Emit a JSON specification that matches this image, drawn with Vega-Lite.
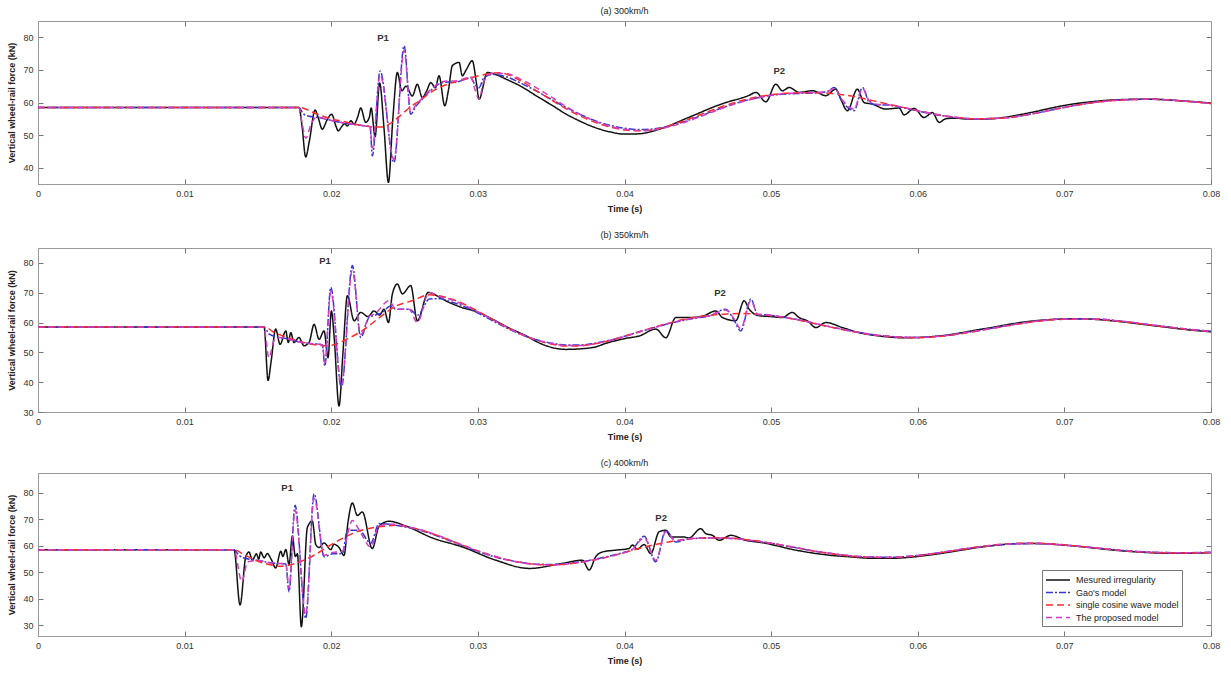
{
"$schema": "https://vega.github.io/schema/vega-lite/v6.json",
"padding": {"left": 7, "top": 6, "right": 5, "bottom": 3},
"spacing": 16,
"config": {
 "font": "Liberation Sans",
 "view": {"stroke": "#999", "strokeWidth": 1},
 "axis": {"domainColor": "#999", "tickColor": "#777", "labelFontSize": 9, "labelColor": "#333", "titleFontSize": 9, "titleFontWeight": "bold", "titleColor": "#222", "grid": false, "tickSize": -5, "labelPadding": 10, "labelOverlap": false},
 "title": {"fontSize": 9, "fontWeight": "normal", "color": "#222", "offset": 5}
},
"datasets": {
 "lab": [
  {"p":"a","txt":"P1","t":0.02353,"v":79.8},{"p":"a","txt":"P2","t":0.05055,"v":69.7},
  {"p":"b","txt":"P1","t":0.01958,"v":80.8},{"p":"b","txt":"P2","t":0.04652,"v":70},
  {"p":"c","txt":"P1","t":0.01699,"v":81.8},{"p":"c","txt":"P2","t":0.0425,"v":70.5}
 ],
 "d": [
{"p":"a","s":"M","t":0,"v":58.5},{"p":"a","s":"M","t":0.0178,"v":58.5},{"p":"a","s":"M","t":0.018,"v":53},{"p":"a","s":"M","t":0.01826,"v":43.3},{"p":"a","s":"M","t":0.0185,"v":48},{"p":"a","s":"M","t":0.0189,"v":57.7},{"p":"a","s":"M","t":0.0191,"v":55.5},{"p":"a","s":"M","t":0.01939,"v":51.8},{"p":"a","s":"M","t":0.0197,"v":54.5},{"p":"a","s":"M","t":0.02003,"v":56.4},{"p":"a","s":"M","t":0.0203,"v":53},{"p":"a","s":"M","t":0.02048,"v":51.3},{"p":"a","s":"M","t":0.0207,"v":52.5},{"p":"a","s":"M","t":0.0209,"v":53.5},{"p":"a","s":"M","t":0.0211,"v":52.8},{"p":"a","s":"M","t":0.02133,"v":54.4},{"p":"a","s":"M","t":0.02156,"v":53.4},{"p":"a","s":"M","t":0.0218,"v":55.5},{"p":"a","s":"M","t":0.02201,"v":58.3},{"p":"a","s":"M","t":0.02235,"v":53.9},{"p":"a","s":"M","t":0.0226,"v":55.5},{"p":"a","s":"M","t":0.02272,"v":58.3},{"p":"a","s":"M","t":0.02299,"v":49.5},{"p":"a","s":"M","t":0.0233,"v":66},{"p":"a","s":"M","t":0.0236,"v":52},{"p":"a","s":"M","t":0.0239,"v":35.5},{"p":"a","s":"M","t":0.0242,"v":55},{"p":"a","s":"M","t":0.02451,"v":69.2},{"p":"a","s":"M","t":0.02481,"v":63.6},{"p":"a","s":"M","t":0.0251,"v":65},{"p":"a","s":"M","t":0.02553,"v":62},{"p":"a","s":"M","t":0.02587,"v":65.6},{"p":"a","s":"M","t":0.02621,"v":61.5},{"p":"a","s":"M","t":0.0265,"v":63.5},{"p":"a","s":"M","t":0.02679,"v":66.1},{"p":"a","s":"M","t":0.0271,"v":64.5},{"p":"a","s":"M","t":0.02735,"v":68.2},{"p":"a","s":"M","t":0.02774,"v":59},{"p":"a","s":"M","t":0.028,"v":64},{"p":"a","s":"M","t":0.02826,"v":71.3},{"p":"a","s":"M","t":0.02872,"v":72.3},{"p":"a","s":"M","t":0.02894,"v":68.2},{"p":"a","s":"M","t":0.0292,"v":70},{"p":"a","s":"M","t":0.02962,"v":72.8},{"p":"a","s":"M","t":0.0299,"v":66},{"p":"a","s":"M","t":0.03008,"v":61},{"p":"a","s":"M","t":0.03065,"v":69.2},{"p":"a","s":"M","t":0.0312,"v":68.6},{"p":"a","s":"M","t":0.032,"v":67},{"p":"a","s":"M","t":0.033,"v":64.8},{"p":"a","s":"M","t":0.034,"v":62},{"p":"a","s":"M","t":0.035,"v":59.3},{"p":"a","s":"M","t":0.036,"v":56.5},{"p":"a","s":"M","t":0.037,"v":54.2},{"p":"a","s":"M","t":0.038,"v":52.3},{"p":"a","s":"M","t":0.039,"v":51},{"p":"a","s":"M","t":0.04,"v":50.3},{"p":"a","s":"M","t":0.041,"v":50.4},{"p":"a","s":"M","t":0.042,"v":51.3},{"p":"a","s":"M","t":0.043,"v":52.8},{"p":"a","s":"M","t":0.044,"v":54.7},{"p":"a","s":"M","t":0.045,"v":56.6},{"p":"a","s":"M","t":0.046,"v":58.5},{"p":"a","s":"M","t":0.047,"v":60.1},{"p":"a","s":"M","t":0.048,"v":61.4},{"p":"a","s":"M","t":0.0485,"v":62.2},{"p":"a","s":"M","t":0.04896,"v":63.1},{"p":"a","s":"M","t":0.04964,"v":60.2},{"p":"a","s":"M","t":0.05032,"v":65.6},{"p":"a","s":"M","t":0.05077,"v":63.6},{"p":"a","s":"M","t":0.05123,"v":64.6},{"p":"a","s":"M","t":0.05191,"v":63.1},{"p":"a","s":"M","t":0.05282,"v":63.6},{"p":"a","s":"M","t":0.05373,"v":62.1},{"p":"a","s":"M","t":0.05441,"v":64.1},{"p":"a","s":"M","t":0.05475,"v":61},{"p":"a","s":"M","t":0.0552,"v":57.5},{"p":"a","s":"M","t":0.05588,"v":64.1},{"p":"a","s":"M","t":0.05634,"v":60},{"p":"a","s":"M","t":0.05691,"v":59.5},{"p":"a","s":"M","t":0.05782,"v":58},{"p":"a","s":"M","t":0.05873,"v":58.3},{"p":"a","s":"M","t":0.05907,"v":56.2},{"p":"a","s":"M","t":0.05975,"v":58.2},{"p":"a","s":"M","t":0.06043,"v":55.4},{"p":"a","s":"M","t":0.061,"v":56.9},{"p":"a","s":"M","t":0.06146,"v":53.9},{"p":"a","s":"M","t":0.0619,"v":55},{"p":"a","s":"M","t":0.0625,"v":55.2},{"p":"a","s":"M","t":0.0635,"v":54.9},{"p":"a","s":"M","t":0.065,"v":55},{"p":"a","s":"M","t":0.066,"v":55.5},{"p":"a","s":"M","t":0.067,"v":56.3},{"p":"a","s":"M","t":0.068,"v":57.2},{"p":"a","s":"M","t":0.069,"v":58.2},{"p":"a","s":"M","t":0.07,"v":59.1},{"p":"a","s":"M","t":0.071,"v":59.8},{"p":"a","s":"M","t":0.072,"v":60.3},{"p":"a","s":"M","t":0.073,"v":60.7},{"p":"a","s":"M","t":0.074,"v":60.9},{"p":"a","s":"M","t":0.075,"v":61},{"p":"a","s":"M","t":0.076,"v":61},{"p":"a","s":"M","t":0.077,"v":60.8},{"p":"a","s":"M","t":0.078,"v":60.5},{"p":"a","s":"M","t":0.079,"v":60.2},{"p":"a","s":"M","t":0.08,"v":59.8},
{"p":"a","s":"G","t":0,"v":58.5},{"p":"a","s":"G","t":0.0178,"v":58.5},{"p":"a","s":"G","t":0.0181,"v":56.5},{"p":"a","s":"G","t":0.0185,"v":55.8},{"p":"a","s":"G","t":0.019,"v":55.5},{"p":"a","s":"G","t":0.02,"v":54.5},{"p":"a","s":"G","t":0.021,"v":53.6},{"p":"a","s":"G","t":0.022,"v":53},{"p":"a","s":"G","t":0.02265,"v":52.6},{"p":"a","s":"G","t":0.0228,"v":43.6},{"p":"a","s":"G","t":0.02333,"v":69.7},{"p":"a","s":"G","t":0.02428,"v":41.6},{"p":"a","s":"G","t":0.02497,"v":77.4},{"p":"a","s":"G","t":0.02542,"v":56.4},{"p":"a","s":"G","t":0.0258,"v":59},{"p":"a","s":"G","t":0.0261,"v":60.5},{"p":"a","s":"G","t":0.0265,"v":62.5},{"p":"a","s":"G","t":0.027,"v":64.5},{"p":"a","s":"G","t":0.0275,"v":66},{"p":"a","s":"G","t":0.028,"v":66.3},{"p":"a","s":"G","t":0.0285,"v":66.2},{"p":"a","s":"G","t":0.029,"v":67},{"p":"a","s":"G","t":0.0295,"v":67.6},{"p":"a","s":"G","t":0.0298,"v":65.5},{"p":"a","s":"G","t":0.03008,"v":64.5},{"p":"a","s":"G","t":0.0304,"v":67.5},{"p":"a","s":"G","t":0.031,"v":68.6},{"p":"a","s":"G","t":0.032,"v":67.8},{"p":"a","s":"G","t":0.033,"v":65.8},{"p":"a","s":"G","t":0.034,"v":63.5},{"p":"a","s":"G","t":0.035,"v":61},{"p":"a","s":"G","t":0.036,"v":58.5},{"p":"a","s":"G","t":0.037,"v":56.3},{"p":"a","s":"G","t":0.038,"v":54.4},{"p":"a","s":"G","t":0.039,"v":53},{"p":"a","s":"G","t":0.04,"v":52.1},{"p":"a","s":"G","t":0.041,"v":51.7},{"p":"a","s":"G","t":0.042,"v":51.9},{"p":"a","s":"G","t":0.043,"v":52.7},{"p":"a","s":"G","t":0.044,"v":54},{"p":"a","s":"G","t":0.045,"v":55.6},{"p":"a","s":"G","t":0.046,"v":57.3},{"p":"a","s":"G","t":0.047,"v":58.9},{"p":"a","s":"G","t":0.048,"v":60.3},{"p":"a","s":"G","t":0.049,"v":61.4},{"p":"a","s":"G","t":0.05,"v":62.2},{"p":"a","s":"G","t":0.051,"v":62.6},{"p":"a","s":"G","t":0.052,"v":62.8},{"p":"a","s":"G","t":0.053,"v":62.9},{"p":"a","s":"G","t":0.0538,"v":63.3},{"p":"a","s":"G","t":0.0543,"v":64.6},{"p":"a","s":"G","t":0.0549,"v":60},{"p":"a","s":"G","t":0.05566,"v":57.5},{"p":"a","s":"G","t":0.05623,"v":64.6},{"p":"a","s":"G","t":0.0567,"v":60},{"p":"a","s":"G","t":0.0572,"v":59.3},{"p":"a","s":"G","t":0.058,"v":59.2},{"p":"a","s":"G","t":0.059,"v":58.4},{"p":"a","s":"G","t":0.06,"v":57.4},{"p":"a","s":"G","t":0.062,"v":55.7},{"p":"a","s":"G","t":0.064,"v":55},{"p":"a","s":"G","t":0.066,"v":55.3},{"p":"a","s":"G","t":0.068,"v":56.7},{"p":"a","s":"G","t":0.07,"v":58.5},{"p":"a","s":"G","t":0.072,"v":60},{"p":"a","s":"G","t":0.074,"v":60.8},{"p":"a","s":"G","t":0.076,"v":61},{"p":"a","s":"G","t":0.078,"v":60.5},{"p":"a","s":"G","t":0.08,"v":59.7},
{"p":"a","s":"S","t":0,"v":58.5},{"p":"a","s":"S","t":0.0178,"v":58.5},{"p":"a","s":"S","t":0.019,"v":56.5},{"p":"a","s":"S","t":0.02,"v":55},{"p":"a","s":"S","t":0.021,"v":54},{"p":"a","s":"S","t":0.022,"v":53},{"p":"a","s":"S","t":0.0229,"v":52.5},{"p":"a","s":"S","t":0.0235,"v":52.5},{"p":"a","s":"S","t":0.024,"v":53.5},{"p":"a","s":"S","t":0.0245,"v":55.2},{"p":"a","s":"S","t":0.0255,"v":59},{"p":"a","s":"S","t":0.026,"v":60.5},{"p":"a","s":"S","t":0.027,"v":63.7},{"p":"a","s":"S","t":0.028,"v":65.7},{"p":"a","s":"S","t":0.029,"v":67},{"p":"a","s":"S","t":0.03,"v":68.1},{"p":"a","s":"S","t":0.031,"v":69},{"p":"a","s":"S","t":0.0315,"v":69.1},{"p":"a","s":"S","t":0.032,"v":68.6},{"p":"a","s":"S","t":0.033,"v":66.5},{"p":"a","s":"S","t":0.034,"v":63.6},{"p":"a","s":"S","t":0.035,"v":60.8},{"p":"a","s":"S","t":0.036,"v":58.1},{"p":"a","s":"S","t":0.037,"v":55.8},{"p":"a","s":"S","t":0.038,"v":53.9},{"p":"a","s":"S","t":0.039,"v":52.5},{"p":"a","s":"S","t":0.04,"v":51.6},{"p":"a","s":"S","t":0.041,"v":51.3},{"p":"a","s":"S","t":0.042,"v":51.7},{"p":"a","s":"S","t":0.043,"v":52.8},{"p":"a","s":"S","t":0.044,"v":54.3},{"p":"a","s":"S","t":0.045,"v":56},{"p":"a","s":"S","t":0.046,"v":57.7},{"p":"a","s":"S","t":0.047,"v":59.3},{"p":"a","s":"S","t":0.048,"v":60.6},{"p":"a","s":"S","t":0.049,"v":61.7},{"p":"a","s":"S","t":0.05,"v":62.4},{"p":"a","s":"S","t":0.051,"v":62.8},{"p":"a","s":"S","t":0.052,"v":63},{"p":"a","s":"S","t":0.053,"v":63},{"p":"a","s":"S","t":0.054,"v":62.8},{"p":"a","s":"S","t":0.055,"v":62.3},{"p":"a","s":"S","t":0.056,"v":61.5},{"p":"a","s":"S","t":0.057,"v":60.5},{"p":"a","s":"S","t":0.058,"v":59.5},{"p":"a","s":"S","t":0.059,"v":58.5},{"p":"a","s":"S","t":0.06,"v":57.5},{"p":"a","s":"S","t":0.062,"v":55.8},{"p":"a","s":"S","t":0.064,"v":55},{"p":"a","s":"S","t":0.066,"v":55.3},{"p":"a","s":"S","t":0.068,"v":56.7},{"p":"a","s":"S","t":0.07,"v":58.5},{"p":"a","s":"S","t":0.072,"v":60},{"p":"a","s":"S","t":0.074,"v":60.8},{"p":"a","s":"S","t":0.076,"v":61},{"p":"a","s":"S","t":0.078,"v":60.5},{"p":"a","s":"S","t":0.08,"v":59.7},
{"p":"a","s":"P","t":0,"v":58.5},{"p":"a","s":"P","t":0.0178,"v":58.5},{"p":"a","s":"P","t":0.018,"v":54},{"p":"a","s":"P","t":0.01826,"v":49},{"p":"a","s":"P","t":0.0186,"v":53},{"p":"a","s":"P","t":0.019,"v":55.5},{"p":"a","s":"P","t":0.02,"v":54.5},{"p":"a","s":"P","t":0.021,"v":53.6},{"p":"a","s":"P","t":0.022,"v":53},{"p":"a","s":"P","t":0.02265,"v":52.6},{"p":"a","s":"P","t":0.0228,"v":46},{"p":"a","s":"P","t":0.02333,"v":68.5},{"p":"a","s":"P","t":0.02428,"v":42.5},{"p":"a","s":"P","t":0.02497,"v":76},{"p":"a","s":"P","t":0.02542,"v":57},{"p":"a","s":"P","t":0.0258,"v":59.5},{"p":"a","s":"P","t":0.0261,"v":60.8},{"p":"a","s":"P","t":0.0265,"v":62.8},{"p":"a","s":"P","t":0.027,"v":64.8},{"p":"a","s":"P","t":0.0275,"v":66.3},{"p":"a","s":"P","t":0.028,"v":66.6},{"p":"a","s":"P","t":0.0285,"v":66.6},{"p":"a","s":"P","t":0.029,"v":67.2},{"p":"a","s":"P","t":0.0295,"v":68},{"p":"a","s":"P","t":0.0298,"v":64},{"p":"a","s":"P","t":0.03008,"v":61},{"p":"a","s":"P","t":0.0304,"v":66.5},{"p":"a","s":"P","t":0.031,"v":69},{"p":"a","s":"P","t":0.032,"v":68.8},{"p":"a","s":"P","t":0.033,"v":67},{"p":"a","s":"P","t":0.034,"v":64.5},{"p":"a","s":"P","t":0.035,"v":61.7},{"p":"a","s":"P","t":0.036,"v":58.8},{"p":"a","s":"P","t":0.037,"v":56.3},{"p":"a","s":"P","t":0.038,"v":54.2},{"p":"a","s":"P","t":0.039,"v":52.7},{"p":"a","s":"P","t":0.04,"v":51.8},{"p":"a","s":"P","t":0.041,"v":51.4},{"p":"a","s":"P","t":0.042,"v":51.6},{"p":"a","s":"P","t":0.043,"v":52.5},{"p":"a","s":"P","t":0.044,"v":53.8},{"p":"a","s":"P","t":0.045,"v":55.4},{"p":"a","s":"P","t":0.046,"v":57.1},{"p":"a","s":"P","t":0.047,"v":58.8},{"p":"a","s":"P","t":0.048,"v":60.2},{"p":"a","s":"P","t":0.049,"v":61.3},{"p":"a","s":"P","t":0.05,"v":62.2},{"p":"a","s":"P","t":0.051,"v":62.7},{"p":"a","s":"P","t":0.052,"v":63},{"p":"a","s":"P","t":0.053,"v":63.1},{"p":"a","s":"P","t":0.0538,"v":63.3},{"p":"a","s":"P","t":0.0543,"v":64.3},{"p":"a","s":"P","t":0.0549,"v":60.5},{"p":"a","s":"P","t":0.05566,"v":58},{"p":"a","s":"P","t":0.05623,"v":64.3},{"p":"a","s":"P","t":0.0567,"v":60.5},{"p":"a","s":"P","t":0.0572,"v":59.5},{"p":"a","s":"P","t":0.058,"v":59.3},{"p":"a","s":"P","t":0.059,"v":58.5},{"p":"a","s":"P","t":0.06,"v":57.5},{"p":"a","s":"P","t":0.062,"v":55.8},{"p":"a","s":"P","t":0.064,"v":55},{"p":"a","s":"P","t":0.066,"v":55.3},{"p":"a","s":"P","t":0.068,"v":56.7},{"p":"a","s":"P","t":0.07,"v":58.5},{"p":"a","s":"P","t":0.072,"v":60},{"p":"a","s":"P","t":0.074,"v":60.8},{"p":"a","s":"P","t":0.076,"v":61},{"p":"a","s":"P","t":0.078,"v":60.5},{"p":"a","s":"P","t":0.08,"v":59.7},
{"p":"b","s":"M","t":0,"v":58.5},{"p":"b","s":"M","t":0.01542,"v":58.5},{"p":"b","s":"M","t":0.01569,"v":40.6},{"p":"b","s":"M","t":0.0159,"v":47},{"p":"b","s":"M","t":0.01621,"v":57.8},{"p":"b","s":"M","t":0.01651,"v":52.7},{"p":"b","s":"M","t":0.0169,"v":57.2},{"p":"b","s":"M","t":0.01707,"v":53.3},{"p":"b","s":"M","t":0.01724,"v":56.6},{"p":"b","s":"M","t":0.01746,"v":53.3},{"p":"b","s":"M","t":0.0178,"v":55},{"p":"b","s":"M","t":0.01814,"v":52.2},{"p":"b","s":"M","t":0.0185,"v":53.5},{"p":"b","s":"M","t":0.01883,"v":59.4},{"p":"b","s":"M","t":0.01917,"v":54.4},{"p":"b","s":"M","t":0.01951,"v":57.2},{"p":"b","s":"M","t":0.01978,"v":48.2},{"p":"b","s":"M","t":0.02001,"v":63.9},{"p":"b","s":"M","t":0.0202,"v":55},{"p":"b","s":"M","t":0.02053,"v":32},{"p":"b","s":"M","t":0.0208,"v":50},{"p":"b","s":"M","t":0.0211,"v":69},{"p":"b","s":"M","t":0.02156,"v":60.6},{"p":"b","s":"M","t":0.02201,"v":63.4},{"p":"b","s":"M","t":0.0225,"v":62},{"p":"b","s":"M","t":0.02292,"v":63.9},{"p":"b","s":"M","t":0.0233,"v":62.5},{"p":"b","s":"M","t":0.0236,"v":64.5},{"p":"b","s":"M","t":0.0239,"v":60},{"p":"b","s":"M","t":0.02417,"v":69.6},{"p":"b","s":"M","t":0.02451,"v":72.9},{"p":"b","s":"M","t":0.02485,"v":69.6},{"p":"b","s":"M","t":0.02542,"v":72.4},{"p":"b","s":"M","t":0.02587,"v":60.6},{"p":"b","s":"M","t":0.02662,"v":70.1},{"p":"b","s":"M","t":0.0272,"v":69},{"p":"b","s":"M","t":0.02781,"v":67.3},{"p":"b","s":"M","t":0.02894,"v":65},{"p":"b","s":"M","t":0.03,"v":63.5},{"p":"b","s":"M","t":0.031,"v":61.1},{"p":"b","s":"M","t":0.032,"v":58.5},{"p":"b","s":"M","t":0.0333,"v":55.5},{"p":"b","s":"M","t":0.0344,"v":52.7},{"p":"b","s":"M","t":0.036,"v":51},{"p":"b","s":"M","t":0.0378,"v":51.6},{"p":"b","s":"M","t":0.0389,"v":53.3},{"p":"b","s":"M","t":0.0401,"v":54.7},{"p":"b","s":"M","t":0.041,"v":55.5},{"p":"b","s":"M","t":0.04214,"v":57.8},{"p":"b","s":"M","t":0.04282,"v":54.9},{"p":"b","s":"M","t":0.0435,"v":61.7},{"p":"b","s":"M","t":0.04463,"v":61.7},{"p":"b","s":"M","t":0.04543,"v":62.3},{"p":"b","s":"M","t":0.04622,"v":63.9},{"p":"b","s":"M","t":0.04668,"v":61.7},{"p":"b","s":"M","t":0.04759,"v":60.6},{"p":"b","s":"M","t":0.04816,"v":67.3},{"p":"b","s":"M","t":0.0485,"v":64.5},{"p":"b","s":"M","t":0.04918,"v":62.3},{"p":"b","s":"M","t":0.05,"v":62},{"p":"b","s":"M","t":0.05077,"v":61.7},{"p":"b","s":"M","t":0.05145,"v":63.4},{"p":"b","s":"M","t":0.0519,"v":61.7},{"p":"b","s":"M","t":0.0525,"v":60.5},{"p":"b","s":"M","t":0.05305,"v":58.3},{"p":"b","s":"M","t":0.05373,"v":60},{"p":"b","s":"M","t":0.05487,"v":58.3},{"p":"b","s":"M","t":0.05601,"v":56.6},{"p":"b","s":"M","t":0.05737,"v":55.5},{"p":"b","s":"M","t":0.059,"v":54.9},{"p":"b","s":"M","t":0.06,"v":55},{"p":"b","s":"M","t":0.061,"v":55.3},{"p":"b","s":"M","t":0.062,"v":55.8},{"p":"b","s":"M","t":0.063,"v":56.6},{"p":"b","s":"M","t":0.064,"v":57.5},{"p":"b","s":"M","t":0.065,"v":58.3},{"p":"b","s":"M","t":0.066,"v":59.2},{"p":"b","s":"M","t":0.067,"v":60},{"p":"b","s":"M","t":0.068,"v":60.6},{"p":"b","s":"M","t":0.069,"v":61},{"p":"b","s":"M","t":0.07,"v":61.2},{"p":"b","s":"M","t":0.071,"v":61.3},{"p":"b","s":"M","t":0.072,"v":61.1},{"p":"b","s":"M","t":0.073,"v":60.7},{"p":"b","s":"M","t":0.074,"v":60.2},{"p":"b","s":"M","t":0.075,"v":59.6},{"p":"b","s":"M","t":0.076,"v":59},{"p":"b","s":"M","t":0.077,"v":58.4},{"p":"b","s":"M","t":0.078,"v":57.8},{"p":"b","s":"M","t":0.079,"v":57.3},{"p":"b","s":"M","t":0.08,"v":56.9},
{"p":"b","s":"G","t":0,"v":58.5},{"p":"b","s":"G","t":0.0154,"v":58.5},{"p":"b","s":"G","t":0.0158,"v":56},{"p":"b","s":"G","t":0.0165,"v":55},{"p":"b","s":"G","t":0.017,"v":54.5},{"p":"b","s":"G","t":0.018,"v":53.3},{"p":"b","s":"G","t":0.019,"v":52.8},{"p":"b","s":"G","t":0.0194,"v":52.5},{"p":"b","s":"G","t":0.01956,"v":45.4},{"p":"b","s":"G","t":0.01997,"v":71.8},{"p":"b","s":"G","t":0.02069,"v":38.1},{"p":"b","s":"G","t":0.02144,"v":79.1},{"p":"b","s":"G","t":0.02201,"v":55},{"p":"b","s":"G","t":0.02258,"v":61.7},{"p":"b","s":"G","t":0.023,"v":62.5},{"p":"b","s":"G","t":0.02349,"v":63.4},{"p":"b","s":"G","t":0.024,"v":65.5},{"p":"b","s":"G","t":0.0244,"v":64.5},{"p":"b","s":"G","t":0.0253,"v":64.5},{"p":"b","s":"G","t":0.0259,"v":62.5},{"p":"b","s":"G","t":0.0267,"v":67.9},{"p":"b","s":"G","t":0.0275,"v":68},{"p":"b","s":"G","t":0.028,"v":67.2},{"p":"b","s":"G","t":0.029,"v":65.5},{"p":"b","s":"G","t":0.03,"v":63.2},{"p":"b","s":"G","t":0.031,"v":60.6},{"p":"b","s":"G","t":0.032,"v":58.1},{"p":"b","s":"G","t":0.033,"v":55.9},{"p":"b","s":"G","t":0.034,"v":54.2},{"p":"b","s":"G","t":0.035,"v":53.1},{"p":"b","s":"G","t":0.036,"v":52.5},{"p":"b","s":"G","t":0.037,"v":52.5},{"p":"b","s":"G","t":0.038,"v":53.1},{"p":"b","s":"G","t":0.039,"v":54.1},{"p":"b","s":"G","t":0.04,"v":55.4},{"p":"b","s":"G","t":0.041,"v":56.9},{"p":"b","s":"G","t":0.042,"v":58.3},{"p":"b","s":"G","t":0.043,"v":59.6},{"p":"b","s":"G","t":0.044,"v":60.7},{"p":"b","s":"G","t":0.045,"v":61.6},{"p":"b","s":"G","t":0.0458,"v":62.2},{"p":"b","s":"G","t":0.0469,"v":64.5},{"p":"b","s":"G","t":0.0474,"v":61.5},{"p":"b","s":"G","t":0.04793,"v":57.2},{"p":"b","s":"G","t":0.04862,"v":67.9},{"p":"b","s":"G","t":0.0491,"v":62.5},{"p":"b","s":"G","t":0.0497,"v":62.6},{"p":"b","s":"G","t":0.05,"v":62.4},{"p":"b","s":"G","t":0.051,"v":61.7},{"p":"b","s":"G","t":0.052,"v":60.8},{"p":"b","s":"G","t":0.053,"v":59.7},{"p":"b","s":"G","t":0.054,"v":58.6},{"p":"b","s":"G","t":0.055,"v":57.6},{"p":"b","s":"G","t":0.056,"v":56.7},{"p":"b","s":"G","t":0.057,"v":55.9},{"p":"b","s":"G","t":0.058,"v":55.4},{"p":"b","s":"G","t":0.06,"v":55},{"p":"b","s":"G","t":0.062,"v":55.7},{"p":"b","s":"G","t":0.064,"v":57.2},{"p":"b","s":"G","t":0.066,"v":58.9},{"p":"b","s":"G","t":0.068,"v":60.4},{"p":"b","s":"G","t":0.07,"v":61.2},{"p":"b","s":"G","t":0.072,"v":61.2},{"p":"b","s":"G","t":0.074,"v":60.4},{"p":"b","s":"G","t":0.076,"v":59.2},{"p":"b","s":"G","t":0.078,"v":58},{"p":"b","s":"G","t":0.08,"v":57.1},
{"p":"b","s":"S","t":0,"v":58.5},{"p":"b","s":"S","t":0.0155,"v":58.5},{"p":"b","s":"S","t":0.016,"v":57},{"p":"b","s":"S","t":0.017,"v":55},{"p":"b","s":"S","t":0.018,"v":53.5},{"p":"b","s":"S","t":0.019,"v":52.5},{"p":"b","s":"S","t":0.0197,"v":52.2},{"p":"b","s":"S","t":0.0203,"v":52.7},{"p":"b","s":"S","t":0.021,"v":54.3},{"p":"b","s":"S","t":0.0221,"v":57.2},{"p":"b","s":"S","t":0.0233,"v":61.7},{"p":"b","s":"S","t":0.0244,"v":65.5},{"p":"b","s":"S","t":0.0255,"v":67.3},{"p":"b","s":"S","t":0.0267,"v":69.3},{"p":"b","s":"S","t":0.0275,"v":68.8},{"p":"b","s":"S","t":0.028,"v":68.2},{"p":"b","s":"S","t":0.029,"v":66.3},{"p":"b","s":"S","t":0.03,"v":63.8},{"p":"b","s":"S","t":0.031,"v":61},{"p":"b","s":"S","t":0.032,"v":58.3},{"p":"b","s":"S","t":0.033,"v":56},{"p":"b","s":"S","t":0.034,"v":54.1},{"p":"b","s":"S","t":0.035,"v":52.8},{"p":"b","s":"S","t":0.036,"v":52.1},{"p":"b","s":"S","t":0.037,"v":52.2},{"p":"b","s":"S","t":0.038,"v":52.9},{"p":"b","s":"S","t":0.039,"v":54},{"p":"b","s":"S","t":0.04,"v":55.4},{"p":"b","s":"S","t":0.041,"v":56.9},{"p":"b","s":"S","t":0.042,"v":58.4},{"p":"b","s":"S","t":0.043,"v":59.8},{"p":"b","s":"S","t":0.044,"v":61},{"p":"b","s":"S","t":0.045,"v":61.9},{"p":"b","s":"S","t":0.046,"v":62.5},{"p":"b","s":"S","t":0.047,"v":62.9},{"p":"b","s":"S","t":0.048,"v":63},{"p":"b","s":"S","t":0.049,"v":62.8},{"p":"b","s":"S","t":0.05,"v":62.3},{"p":"b","s":"S","t":0.051,"v":61.6},{"p":"b","s":"S","t":0.052,"v":60.7},{"p":"b","s":"S","t":0.053,"v":59.6},{"p":"b","s":"S","t":0.054,"v":58.5},{"p":"b","s":"S","t":0.055,"v":57.5},{"p":"b","s":"S","t":0.056,"v":56.6},{"p":"b","s":"S","t":0.057,"v":55.8},{"p":"b","s":"S","t":0.058,"v":55.3},{"p":"b","s":"S","t":0.06,"v":54.9},{"p":"b","s":"S","t":0.062,"v":55.6},{"p":"b","s":"S","t":0.064,"v":57.1},{"p":"b","s":"S","t":0.066,"v":58.8},{"p":"b","s":"S","t":0.068,"v":60.3},{"p":"b","s":"S","t":0.07,"v":61.1},{"p":"b","s":"S","t":0.072,"v":61.1},{"p":"b","s":"S","t":0.074,"v":60.3},{"p":"b","s":"S","t":0.076,"v":59.1},{"p":"b","s":"S","t":0.078,"v":57.9},{"p":"b","s":"S","t":0.08,"v":57},
{"p":"b","s":"P","t":0,"v":58.5},{"p":"b","s":"P","t":0.0154,"v":58.5},{"p":"b","s":"P","t":0.01575,"v":48.2},{"p":"b","s":"P","t":0.0161,"v":54},{"p":"b","s":"P","t":0.0165,"v":55},{"p":"b","s":"P","t":0.017,"v":54.5},{"p":"b","s":"P","t":0.018,"v":53.3},{"p":"b","s":"P","t":0.019,"v":52.8},{"p":"b","s":"P","t":0.0194,"v":52.5},{"p":"b","s":"P","t":0.01956,"v":46.5},{"p":"b","s":"P","t":0.01997,"v":70.5},{"p":"b","s":"P","t":0.02069,"v":39},{"p":"b","s":"P","t":0.02144,"v":77.5},{"p":"b","s":"P","t":0.02201,"v":56},{"p":"b","s":"P","t":0.02258,"v":62},{"p":"b","s":"P","t":0.023,"v":63},{"p":"b","s":"P","t":0.02394,"v":67.3},{"p":"b","s":"P","t":0.0244,"v":64.5},{"p":"b","s":"P","t":0.0253,"v":64.5},{"p":"b","s":"P","t":0.02587,"v":60},{"p":"b","s":"P","t":0.02667,"v":70.1},{"p":"b","s":"P","t":0.0275,"v":68.5},{"p":"b","s":"P","t":0.028,"v":68},{"p":"b","s":"P","t":0.029,"v":66},{"p":"b","s":"P","t":0.03,"v":63.6},{"p":"b","s":"P","t":0.031,"v":61},{"p":"b","s":"P","t":0.032,"v":58.4},{"p":"b","s":"P","t":0.033,"v":56},{"p":"b","s":"P","t":0.034,"v":54.2},{"p":"b","s":"P","t":0.035,"v":53},{"p":"b","s":"P","t":0.036,"v":52.3},{"p":"b","s":"P","t":0.037,"v":52.3},{"p":"b","s":"P","t":0.038,"v":52.9},{"p":"b","s":"P","t":0.039,"v":54},{"p":"b","s":"P","t":0.04,"v":55.3},{"p":"b","s":"P","t":0.041,"v":56.8},{"p":"b","s":"P","t":0.042,"v":58.3},{"p":"b","s":"P","t":0.043,"v":59.7},{"p":"b","s":"P","t":0.044,"v":60.8},{"p":"b","s":"P","t":0.045,"v":61.7},{"p":"b","s":"P","t":0.0458,"v":62.3},{"p":"b","s":"P","t":0.0469,"v":64.2},{"p":"b","s":"P","t":0.0474,"v":61.8},{"p":"b","s":"P","t":0.04793,"v":58},{"p":"b","s":"P","t":0.04862,"v":67.3},{"p":"b","s":"P","t":0.0491,"v":62.7},{"p":"b","s":"P","t":0.0497,"v":62.7},{"p":"b","s":"P","t":0.05,"v":62.4},{"p":"b","s":"P","t":0.051,"v":61.7},{"p":"b","s":"P","t":0.052,"v":60.8},{"p":"b","s":"P","t":0.053,"v":59.7},{"p":"b","s":"P","t":0.054,"v":58.6},{"p":"b","s":"P","t":0.055,"v":57.6},{"p":"b","s":"P","t":0.056,"v":56.7},{"p":"b","s":"P","t":0.057,"v":55.9},{"p":"b","s":"P","t":0.058,"v":55.4},{"p":"b","s":"P","t":0.06,"v":55},{"p":"b","s":"P","t":0.062,"v":55.7},{"p":"b","s":"P","t":0.064,"v":57.2},{"p":"b","s":"P","t":0.066,"v":58.9},{"p":"b","s":"P","t":0.068,"v":60.4},{"p":"b","s":"P","t":0.07,"v":61.2},{"p":"b","s":"P","t":0.072,"v":61.2},{"p":"b","s":"P","t":0.074,"v":60.4},{"p":"b","s":"P","t":0.076,"v":59.2},{"p":"b","s":"P","t":0.078,"v":58},{"p":"b","s":"P","t":0.08,"v":57.1},
{"p":"c","s":"M","t":0,"v":58.5},{"p":"c","s":"M","t":0.01337,"v":58.5},{"p":"c","s":"M","t":0.01378,"v":37.7},{"p":"c","s":"M","t":0.01417,"v":55.9},{"p":"c","s":"M","t":0.01439,"v":57.7},{"p":"c","s":"M","t":0.01462,"v":54.6},{"p":"c","s":"M","t":0.0149,"v":57},{"p":"c","s":"M","t":0.01505,"v":55},{"p":"c","s":"M","t":0.01519,"v":57.7},{"p":"c","s":"M","t":0.01542,"v":55.5},{"p":"c","s":"M","t":0.01564,"v":57.1},{"p":"c","s":"M","t":0.0159,"v":55},{"p":"c","s":"M","t":0.01621,"v":51.7},{"p":"c","s":"M","t":0.01656,"v":58},{"p":"c","s":"M","t":0.0167,"v":56},{"p":"c","s":"M","t":0.0169,"v":58.6},{"p":"c","s":"M","t":0.01712,"v":53},{"p":"c","s":"M","t":0.01735,"v":63.7},{"p":"c","s":"M","t":0.01755,"v":56},{"p":"c","s":"M","t":0.01769,"v":57},{"p":"c","s":"M","t":0.01796,"v":29.5},{"p":"c","s":"M","t":0.01837,"v":66.9},{"p":"c","s":"M","t":0.01871,"v":69.4},{"p":"c","s":"M","t":0.01894,"v":60.6},{"p":"c","s":"M","t":0.01917,"v":59.4},{"p":"c","s":"M","t":0.01951,"v":61.1},{"p":"c","s":"M","t":0.01997,"v":58.6},{"p":"c","s":"M","t":0.02019,"v":60.6},{"p":"c","s":"M","t":0.02053,"v":59.4},{"p":"c","s":"M","t":0.02087,"v":56.4},{"p":"c","s":"M","t":0.02115,"v":69.3},{"p":"c","s":"M","t":0.02144,"v":76.2},{"p":"c","s":"M","t":0.02178,"v":71.5},{"p":"c","s":"M","t":0.02212,"v":72.8},{"p":"c","s":"M","t":0.0228,"v":59},{"p":"c","s":"M","t":0.02326,"v":67.4},{"p":"c","s":"M","t":0.02394,"v":69.3},{"p":"c","s":"M","t":0.02508,"v":67.5},{"p":"c","s":"M","t":0.0269,"v":63},{"p":"c","s":"M","t":0.02894,"v":59.6},{"p":"c","s":"M","t":0.03122,"v":54.6},{"p":"c","s":"M","t":0.0335,"v":51.5},{"p":"c","s":"M","t":0.03576,"v":53.4},{"p":"c","s":"M","t":0.03713,"v":54.6},{"p":"c","s":"M","t":0.03759,"v":50.9},{"p":"c","s":"M","t":0.03804,"v":55.9},{"p":"c","s":"M","t":0.03849,"v":57.7},{"p":"c","s":"M","t":0.03941,"v":58.4},{"p":"c","s":"M","t":0.04031,"v":59},{"p":"c","s":"M","t":0.04054,"v":60.3},{"p":"c","s":"M","t":0.04088,"v":58.8},{"p":"c","s":"M","t":0.04134,"v":60.5},{"p":"c","s":"M","t":0.04179,"v":57.1},{"p":"c","s":"M","t":0.04236,"v":65.3},{"p":"c","s":"M","t":0.04282,"v":65.9},{"p":"c","s":"M","t":0.04316,"v":63.4},{"p":"c","s":"M","t":0.04395,"v":63.4},{"p":"c","s":"M","t":0.0444,"v":63},{"p":"c","s":"M","t":0.0452,"v":66.5},{"p":"c","s":"M","t":0.04555,"v":64.6},{"p":"c","s":"M","t":0.046,"v":64},{"p":"c","s":"M","t":0.04645,"v":62.1},{"p":"c","s":"M","t":0.04725,"v":64},{"p":"c","s":"M","t":0.04827,"v":62.1},{"p":"c","s":"M","t":0.04941,"v":61.2},{"p":"c","s":"M","t":0.05168,"v":58.4},{"p":"c","s":"M","t":0.05396,"v":56.5},{"p":"c","s":"M","t":0.05532,"v":55.9},{"p":"c","s":"M","t":0.057,"v":55.3},{"p":"c","s":"M","t":0.058,"v":55.3},{"p":"c","s":"M","t":0.059,"v":55.5},{"p":"c","s":"M","t":0.06,"v":56},{"p":"c","s":"M","t":0.061,"v":56.7},{"p":"c","s":"M","t":0.062,"v":57.5},{"p":"c","s":"M","t":0.063,"v":58.4},{"p":"c","s":"M","t":0.064,"v":59.3},{"p":"c","s":"M","t":0.065,"v":60},{"p":"c","s":"M","t":0.066,"v":60.6},{"p":"c","s":"M","t":0.067,"v":60.9},{"p":"c","s":"M","t":0.068,"v":60.9},{"p":"c","s":"M","t":0.069,"v":60.7},{"p":"c","s":"M","t":0.07,"v":60.3},{"p":"c","s":"M","t":0.071,"v":59.8},{"p":"c","s":"M","t":0.072,"v":59.2},{"p":"c","s":"M","t":0.073,"v":58.6},{"p":"c","s":"M","t":0.074,"v":58.1},{"p":"c","s":"M","t":0.075,"v":57.7},{"p":"c","s":"M","t":0.076,"v":57.4},{"p":"c","s":"M","t":0.077,"v":57.2},{"p":"c","s":"M","t":0.078,"v":57.2},{"p":"c","s":"M","t":0.079,"v":57.3},{"p":"c","s":"M","t":0.08,"v":57.4},
{"p":"c","s":"G","t":0,"v":58.5},{"p":"c","s":"G","t":0.01337,"v":58.5},{"p":"c","s":"G","t":0.0137,"v":56.5},{"p":"c","s":"G","t":0.014,"v":55.5},{"p":"c","s":"G","t":0.015,"v":54.5},{"p":"c","s":"G","t":0.016,"v":53.5},{"p":"c","s":"G","t":0.0169,"v":53.2},{"p":"c","s":"G","t":0.01712,"v":42.7},{"p":"c","s":"G","t":0.01753,"v":75.3},{"p":"c","s":"G","t":0.01826,"v":32.7},{"p":"c","s":"G","t":0.01883,"v":79.7},{"p":"c","s":"G","t":0.01951,"v":55.9},{"p":"c","s":"G","t":0.0201,"v":57},{"p":"c","s":"G","t":0.02076,"v":57.1},{"p":"c","s":"G","t":0.0211,"v":65.9},{"p":"c","s":"G","t":0.0219,"v":65.9},{"p":"c","s":"G","t":0.02269,"v":61},{"p":"c","s":"G","t":0.02326,"v":68.4},{"p":"c","s":"G","t":0.02417,"v":68},{"p":"c","s":"G","t":0.025,"v":67.2},{"p":"c","s":"G","t":0.026,"v":66},{"p":"c","s":"G","t":0.027,"v":64.2},{"p":"c","s":"G","t":0.028,"v":62.1},{"p":"c","s":"G","t":0.029,"v":60},{"p":"c","s":"G","t":0.03,"v":57.9},{"p":"c","s":"G","t":0.031,"v":56.1},{"p":"c","s":"G","t":0.032,"v":54.7},{"p":"c","s":"G","t":0.033,"v":53.7},{"p":"c","s":"G","t":0.034,"v":53.1},{"p":"c","s":"G","t":0.035,"v":53},{"p":"c","s":"G","t":0.036,"v":53.3},{"p":"c","s":"G","t":0.037,"v":54},{"p":"c","s":"G","t":0.038,"v":55},{"p":"c","s":"G","t":0.039,"v":56.2},{"p":"c","s":"G","t":0.04,"v":57.6},{"p":"c","s":"G","t":0.0405,"v":58.5},{"p":"c","s":"G","t":0.04134,"v":63.6},{"p":"c","s":"G","t":0.04213,"v":54},{"p":"c","s":"G","t":0.04282,"v":65.9},{"p":"c","s":"G","t":0.0435,"v":61.5},{"p":"c","s":"G","t":0.0445,"v":62.7},{"p":"c","s":"G","t":0.046,"v":63},{"p":"c","s":"G","t":0.047,"v":62.9},{"p":"c","s":"G","t":0.048,"v":62.5},{"p":"c","s":"G","t":0.049,"v":61.8},{"p":"c","s":"G","t":0.05,"v":61},{"p":"c","s":"G","t":0.051,"v":60},{"p":"c","s":"G","t":0.052,"v":59},{"p":"c","s":"G","t":0.053,"v":58},{"p":"c","s":"G","t":0.054,"v":57.2},{"p":"c","s":"G","t":0.055,"v":56.5},{"p":"c","s":"G","t":0.056,"v":56},{"p":"c","s":"G","t":0.058,"v":55.7},{"p":"c","s":"G","t":0.06,"v":56.4},{"p":"c","s":"G","t":0.062,"v":57.9},{"p":"c","s":"G","t":0.064,"v":59.5},{"p":"c","s":"G","t":0.066,"v":60.6},{"p":"c","s":"G","t":0.068,"v":60.9},{"p":"c","s":"G","t":0.07,"v":60.3},{"p":"c","s":"G","t":0.072,"v":59.3},{"p":"c","s":"G","t":0.074,"v":58.3},{"p":"c","s":"G","t":0.076,"v":57.6},{"p":"c","s":"G","t":0.078,"v":57.4},{"p":"c","s":"G","t":0.08,"v":57.6},
{"p":"c","s":"S","t":0,"v":58.5},{"p":"c","s":"S","t":0.0134,"v":58.5},{"p":"c","s":"S","t":0.014,"v":56.8},{"p":"c","s":"S","t":0.015,"v":54.2},{"p":"c","s":"S","t":0.016,"v":52.7},{"p":"c","s":"S","t":0.0165,"v":52.3},{"p":"c","s":"S","t":0.017,"v":52.6},{"p":"c","s":"S","t":0.018,"v":54.3},{"p":"c","s":"S","t":0.019,"v":57},{"p":"c","s":"S","t":0.02,"v":60.5},{"p":"c","s":"S","t":0.021,"v":63.5},{"p":"c","s":"S","t":0.022,"v":65.8},{"p":"c","s":"S","t":0.023,"v":67},{"p":"c","s":"S","t":0.024,"v":67.6},{"p":"c","s":"S","t":0.0245,"v":67.8},{"p":"c","s":"S","t":0.025,"v":67.4},{"p":"c","s":"S","t":0.026,"v":66.2},{"p":"c","s":"S","t":0.027,"v":64.4},{"p":"c","s":"S","t":0.028,"v":62.3},{"p":"c","s":"S","t":0.029,"v":60.2},{"p":"c","s":"S","t":0.03,"v":58.1},{"p":"c","s":"S","t":0.031,"v":56.3},{"p":"c","s":"S","t":0.032,"v":54.8},{"p":"c","s":"S","t":0.033,"v":53.7},{"p":"c","s":"S","t":0.034,"v":53},{"p":"c","s":"S","t":0.035,"v":52.8},{"p":"c","s":"S","t":0.036,"v":53.1},{"p":"c","s":"S","t":0.037,"v":53.8},{"p":"c","s":"S","t":0.038,"v":54.8},{"p":"c","s":"S","t":0.039,"v":56},{"p":"c","s":"S","t":0.04,"v":57.5},{"p":"c","s":"S","t":0.041,"v":59},{"p":"c","s":"S","t":0.042,"v":60.4},{"p":"c","s":"S","t":0.043,"v":61.5},{"p":"c","s":"S","t":0.044,"v":62.4},{"p":"c","s":"S","t":0.045,"v":62.9},{"p":"c","s":"S","t":0.046,"v":63.1},{"p":"c","s":"S","t":0.047,"v":63},{"p":"c","s":"S","t":0.048,"v":62.6},{"p":"c","s":"S","t":0.049,"v":61.9},{"p":"c","s":"S","t":0.05,"v":61},{"p":"c","s":"S","t":0.051,"v":60},{"p":"c","s":"S","t":0.052,"v":59},{"p":"c","s":"S","t":0.053,"v":58},{"p":"c","s":"S","t":0.054,"v":57.1},{"p":"c","s":"S","t":0.055,"v":56.4},{"p":"c","s":"S","t":0.056,"v":55.9},{"p":"c","s":"S","t":0.058,"v":55.6},{"p":"c","s":"S","t":0.06,"v":56.3},{"p":"c","s":"S","t":0.062,"v":57.8},{"p":"c","s":"S","t":0.064,"v":59.5},{"p":"c","s":"S","t":0.066,"v":60.7},{"p":"c","s":"S","t":0.068,"v":61},{"p":"c","s":"S","t":0.07,"v":60.4},{"p":"c","s":"S","t":0.072,"v":59.3},{"p":"c","s":"S","t":0.074,"v":58.2},{"p":"c","s":"S","t":0.076,"v":57.5},{"p":"c","s":"S","t":0.078,"v":57.3},{"p":"c","s":"S","t":0.08,"v":57.5},
{"p":"c","s":"P","t":0,"v":58.5},{"p":"c","s":"P","t":0.01337,"v":58.5},{"p":"c","s":"P","t":0.0139,"v":46.5},{"p":"c","s":"P","t":0.0143,"v":54},{"p":"c","s":"P","t":0.015,"v":54.5},{"p":"c","s":"P","t":0.016,"v":53.5},{"p":"c","s":"P","t":0.0169,"v":53.2},{"p":"c","s":"P","t":0.01712,"v":44},{"p":"c","s":"P","t":0.01753,"v":73.5},{"p":"c","s":"P","t":0.01826,"v":34},{"p":"c","s":"P","t":0.01883,"v":78},{"p":"c","s":"P","t":0.01951,"v":56.5},{"p":"c","s":"P","t":0.0201,"v":57.5},{"p":"c","s":"P","t":0.02076,"v":58},{"p":"c","s":"P","t":0.02144,"v":69.6},{"p":"c","s":"P","t":0.0219,"v":66},{"p":"c","s":"P","t":0.02269,"v":59.6},{"p":"c","s":"P","t":0.02326,"v":67.5},{"p":"c","s":"P","t":0.02417,"v":68.2},{"p":"c","s":"P","t":0.025,"v":67.5},{"p":"c","s":"P","t":0.026,"v":66.2},{"p":"c","s":"P","t":0.027,"v":64.5},{"p":"c","s":"P","t":0.028,"v":62.4},{"p":"c","s":"P","t":0.029,"v":60.2},{"p":"c","s":"P","t":0.03,"v":58.1},{"p":"c","s":"P","t":0.031,"v":56.2},{"p":"c","s":"P","t":0.032,"v":54.7},{"p":"c","s":"P","t":0.033,"v":53.6},{"p":"c","s":"P","t":0.034,"v":53},{"p":"c","s":"P","t":0.035,"v":52.8},{"p":"c","s":"P","t":0.036,"v":53.1},{"p":"c","s":"P","t":0.037,"v":53.8},{"p":"c","s":"P","t":0.038,"v":54.8},{"p":"c","s":"P","t":0.039,"v":56},{"p":"c","s":"P","t":0.04,"v":57.5},{"p":"c","s":"P","t":0.0405,"v":58.5},{"p":"c","s":"P","t":0.04134,"v":63},{"p":"c","s":"P","t":0.04213,"v":54.5},{"p":"c","s":"P","t":0.04282,"v":65.3},{"p":"c","s":"P","t":0.0435,"v":62},{"p":"c","s":"P","t":0.0445,"v":62.8},{"p":"c","s":"P","t":0.046,"v":63},{"p":"c","s":"P","t":0.047,"v":62.9},{"p":"c","s":"P","t":0.048,"v":62.5},{"p":"c","s":"P","t":0.049,"v":61.8},{"p":"c","s":"P","t":0.05,"v":61},{"p":"c","s":"P","t":0.051,"v":60},{"p":"c","s":"P","t":0.052,"v":59},{"p":"c","s":"P","t":0.053,"v":58},{"p":"c","s":"P","t":0.054,"v":57.2},{"p":"c","s":"P","t":0.055,"v":56.5},{"p":"c","s":"P","t":0.056,"v":56},{"p":"c","s":"P","t":0.058,"v":55.7},{"p":"c","s":"P","t":0.06,"v":56.4},{"p":"c","s":"P","t":0.062,"v":57.9},{"p":"c","s":"P","t":0.064,"v":59.5},{"p":"c","s":"P","t":0.066,"v":60.6},{"p":"c","s":"P","t":0.068,"v":60.9},{"p":"c","s":"P","t":0.07,"v":60.3},{"p":"c","s":"P","t":0.072,"v":59.3},{"p":"c","s":"P","t":0.074,"v":58.3},{"p":"c","s":"P","t":0.076,"v":57.6},{"p":"c","s":"P","t":0.078,"v":57.4},{"p":"c","s":"P","t":0.08,"v":57.6}
 ]
},
"resolve": {"legend": {"color": "independent", "strokeDash": "independent"}},
"vconcat": [
 {
  "title": {"text": "(a) 300km/h", "offset": 5}, "width": 1173, "height": 163,
  "resolve": {"axis": {"x": "independent", "y": "independent"}},
  "layer": [
   {"data": {"name": "d"}, "transform": [{"filter": "datum.p == 'a'"}],
    "mark": {"type": "line", "interpolate": "monotone", "strokeWidth": 1.5, "clip": true},
    "encoding": {
     "x": {"field": "t", "type": "quantitative", "scale": {"domain": [0, 0.08], "nice": false}, "axis": {"values": [0,0.01,0.02,0.03,0.04,0.05,0.06,0.07,0.08], "labelExpr": "datum.value == 0 ? '0' : format(datum.value, '.2f')", "labelFlush": false, "title": "Time (s)", "titlePadding": 6}},
     "y": {"field": "v", "type": "quantitative", "scale": {"domain": [35, 85], "nice": false}, "axis": {"values": [40,50,60,70,80], "labelOverlap": false, "title": "Vertical wheel-rail force (kN)", "titlePadding": 6}},
     "color": {"field": "s", "type": "nominal", "scale": {"domain": ["M","G","S","P"], "range": ["#111111","#3838d0","#ff2b2b","#d43cc4"]}, "legend": null},
     "strokeDash": {"field": "s", "type": "nominal", "scale": {"domain": ["M","G","S","P"], "range": [[1,0],[7,2,2,2],[7,4],[6,4]]}, "legend": null}
    }},
   {"data": {"name": "lab"}, "transform": [{"filter": "datum.p == 'a'"}],
    "mark": {"type": "text", "fontSize": 9.5, "fontWeight": "bold", "color": "#333"},
    "encoding": {"x": {"field": "t", "type": "quantitative", "axis": {"orient": "top", "values": [0.01,0.02,0.03,0.04,0.05,0.06,0.07], "labels": false, "title": null, "domain": false}}, "y": {"field": "v", "type": "quantitative", "axis": {"orient": "right", "values": [40,50,60,70,80], "labels": false, "title": null, "domain": false}}, "text": {"field": "txt"}}}
  ]
 },
 {
  "title": {"text": "(b) 350km/h", "offset": 8}, "width": 1173, "height": 164,
  "resolve": {"axis": {"x": "independent", "y": "independent"}},
  "layer": [
   {"data": {"name": "d"}, "transform": [{"filter": "datum.p == 'b'"}],
    "mark": {"type": "line", "interpolate": "monotone", "strokeWidth": 1.5, "clip": true},
    "encoding": {
     "x": {"field": "t", "type": "quantitative", "scale": {"domain": [0, 0.08], "nice": false}, "axis": {"values": [0,0.01,0.02,0.03,0.04,0.05,0.06,0.07,0.08], "labelExpr": "datum.value == 0 ? '0' : format(datum.value, '.2f')", "labelFlush": false, "title": "Time (s)", "titlePadding": 6}},
     "y": {"field": "v", "type": "quantitative", "scale": {"domain": [30, 85], "nice": false}, "axis": {"values": [30,40,50,60,70,80], "labelOverlap": false, "title": "Vertical wheel-rail force (kN)", "titlePadding": 6}},
     "color": {"field": "s", "type": "nominal", "scale": {"domain": ["M","G","S","P"], "range": ["#111111","#3838d0","#ff2b2b","#d43cc4"]}, "legend": null},
     "strokeDash": {"field": "s", "type": "nominal", "scale": {"domain": ["M","G","S","P"], "range": [[1,0],[7,2,2,2],[7,4],[6,4]]}, "legend": null}
    }},
   {"data": {"name": "lab"}, "transform": [{"filter": "datum.p == 'b'"}],
    "mark": {"type": "text", "fontSize": 9.5, "fontWeight": "bold", "color": "#333"},
    "encoding": {"x": {"field": "t", "type": "quantitative", "axis": {"orient": "top", "values": [0.01,0.02,0.03,0.04,0.05,0.06,0.07], "labels": false, "title": null, "domain": false}}, "y": {"field": "v", "type": "quantitative", "axis": {"orient": "right", "values": [30,40,50,60,70,80], "labels": false, "title": null, "domain": false}}, "text": {"field": "txt"}}}
  ]
 },
 {
  "title": {"text": "(c) 400km/h", "offset": 5}, "width": 1173, "height": 163,
  "resolve": {"axis": {"x": "independent", "y": "independent"}},
  "layer": [
   {"data": {"name": "d"}, "transform": [{"filter": "datum.p == 'c'"}],
    "mark": {"type": "line", "interpolate": "monotone", "strokeWidth": 1.5, "clip": true},
    "encoding": {
     "x": {"field": "t", "type": "quantitative", "scale": {"domain": [0, 0.08], "nice": false}, "axis": {"values": [0,0.01,0.02,0.03,0.04,0.05,0.06,0.07,0.08], "labelExpr": "datum.value == 0 ? '0' : format(datum.value, '.2f')", "labelFlush": false, "title": "Time (s)", "titlePadding": 6}},
     "y": {"field": "v", "type": "quantitative", "scale": {"domain": [26, 87.5], "nice": false}, "axis": {"values": [30,40,50,60,70,80], "labelOverlap": false, "title": "Vertical wheel-rail force (kN)", "titlePadding": 6}},
     "color": {"field": "s", "type": "nominal", "scale": {"domain": ["M","G","S","P"], "range": ["#111111","#3838d0","#ff2b2b","#d43cc4"]},
      "legend": {"orient": "none", "legendX": 1004, "legendY": 97, "title": null, "symbolType": "M-1,0H3", "symbolSize": 144, "symbolStrokeWidth": 1.5, "labelOffset": 17, "labelFontSize": 9, "labelColor": "#222", "strokeColor": "#777", "fillColor": "white", "padding": 3, "rowPadding": 0.5, "labelExpr": "{'M': 'Mesured irregularity', 'G': \"Gao's model\", 'S': 'single cosine wave model', 'P': 'The proposed model'}[datum.value]"}},
     "strokeDash": {"field": "s", "type": "nominal", "scale": {"domain": ["M","G","S","P"], "range": [[1,0],[7,2,2,2],[7,4],[6,4]]},
      "legend": {"orient": "none", "legendX": 1004, "legendY": 97, "title": null, "symbolType": "M-1,0H3", "symbolSize": 144, "symbolStrokeWidth": 1.5, "labelOffset": 17, "labelFontSize": 9, "labelColor": "#222", "strokeColor": "#777", "fillColor": "white", "padding": 3, "rowPadding": 0.5, "labelExpr": "{'M': 'Mesured irregularity', 'G': \"Gao's model\", 'S': 'single cosine wave model', 'P': 'The proposed model'}[datum.value]"}}
    }},
   {"data": {"name": "lab"}, "transform": [{"filter": "datum.p == 'c'"}],
    "mark": {"type": "text", "fontSize": 9.5, "fontWeight": "bold", "color": "#333"},
    "encoding": {"x": {"field": "t", "type": "quantitative", "axis": {"orient": "top", "values": [0.01,0.02,0.03,0.04,0.05,0.06,0.07], "labels": false, "title": null, "domain": false}}, "y": {"field": "v", "type": "quantitative", "axis": {"orient": "right", "values": [30,40,50,60,70,80], "labels": false, "title": null, "domain": false}}, "text": {"field": "txt"}}}
  ]
 }
]
}
